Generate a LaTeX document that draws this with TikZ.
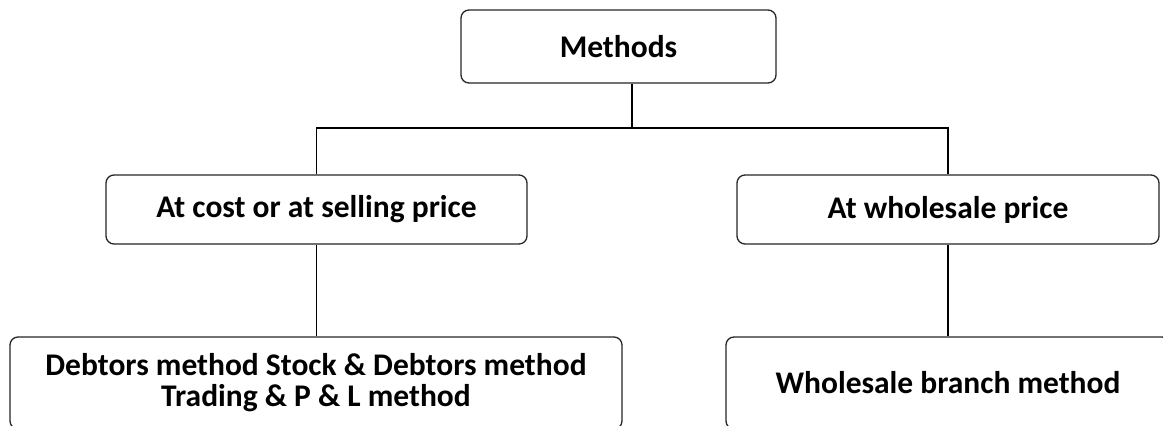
\documentclass[tikz,border=0pt]{standalone}
\usepackage{fontspec}
\setmainfont{Carlito}
\begin{document}
\begin{tikzpicture}[x=1pt,y=-1pt,
  box/.style={draw=black!85, line width=1.3pt, rounded corners=8pt, fill=white,
    inner sep=0pt, align=center, font=\fontsize{31.5}{31}\selectfont\bfseries},
  link/.style={draw=black, line width=1.2pt}]
\useasboundingbox (0,0) rectangle (1163,426);
\clip (0,0) rectangle (1163,426);

% top level
\node[box, minimum width=315pt, minimum height=73pt] (m) at (618.5,46.5) {Methods};

% second level
\node[box, minimum width=421pt, minimum height=69pt] (lm) at (316.5,209.5) {At cost or at selling price};
\node[box, minimum width=422pt, minimum height=69pt] (rm) at (948,209.5) {At wholesale price};

% third level (runs past the page edge)
\node[box, minimum width=612pt, minimum height=92pt] (bl) at (316,383)
  {Debtors method Stock \& Debtors method\\Trading \& P \& L method};
\node[box, minimum width=444pt, minimum height=92pt] (br) at (948,383) {Wholesale branch method};

% connectors
\coordinate (bus) at (632,128);
\draw[link] (m.south -| bus) -- (bus);
\draw[link] (lm.north) -- (lm.north |- bus) -- (rm.north |- bus) -- (rm.north);
\draw[link] (lm.south) -- (lm.south |- bl.north);
\draw[link] (rm.south) -- (rm.south |- br.north);
\end{tikzpicture}
\end{document}
